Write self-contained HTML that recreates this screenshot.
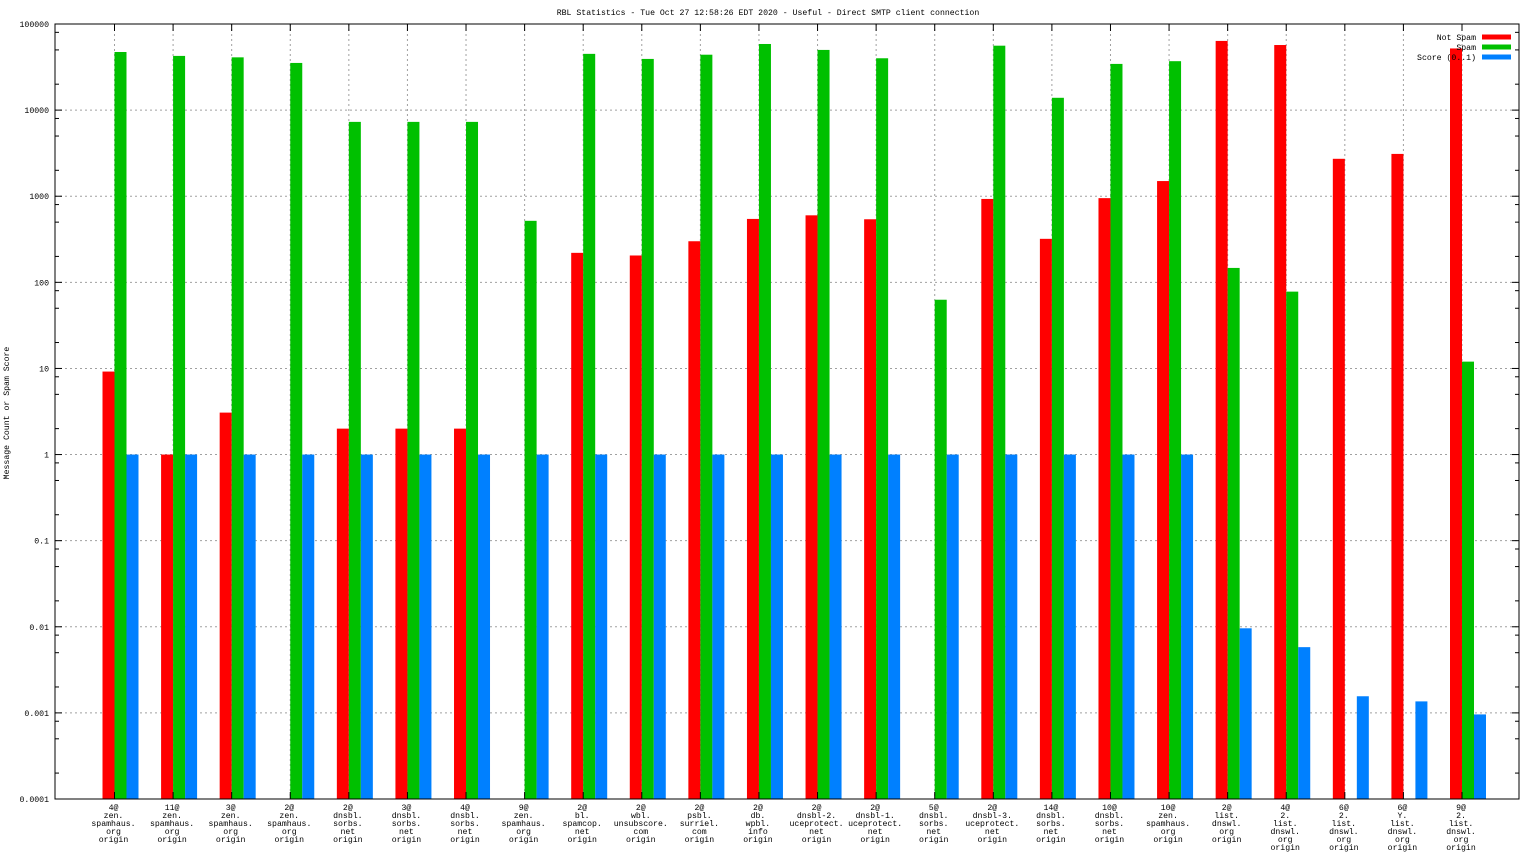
<!DOCTYPE html>
<html><head><meta charset="utf-8"><style>
html,body{margin:0;padding:0;background:#fff;}
svg{display:block;font-family:"Liberation Mono",monospace;}
</style></head><body>
<svg id="chart" width="1536" height="864" xmlns="http://www.w3.org/2000/svg"></svg>
<script>
const categories = [
 ["4@","zen.","spamhaus.","org","origin"],
 ["11@","zen.","spamhaus.","org","origin"],
 ["3@","zen.","spamhaus.","org","origin"],
 ["2@","zen.","spamhaus.","org","origin"],
 ["2@","dnsbl.","sorbs.","net","origin"],
 ["3@","dnsbl.","sorbs.","net","origin"],
 ["4@","dnsbl.","sorbs.","net","origin"],
 ["9@","zen.","spamhaus.","org","origin"],
 ["2@","bl.","spamcop.","net","origin"],
 ["2@","wbl.","unsubscore.","com","origin"],
 ["2@","psbl.","surriel.","com","origin"],
 ["2@","db.","wpbl.","info","origin"],
 ["2@","dnsbl-2.","uceprotect.","net","origin"],
 ["2@","dnsbl-1.","uceprotect.","net","origin"],
 ["5@","dnsbl.","sorbs.","net","origin"],
 ["2@","dnsbl-3.","uceprotect.","net","origin"],
 ["14@","dnsbl.","sorbs.","net","origin"],
 ["10@","dnsbl.","sorbs.","net","origin"],
 ["10@","zen.","spamhaus.","org","origin"],
 ["2@","list.","dnswl.","org","origin"],
 ["4@","2.","list.","dnswl.","org","origin"],
 ["6@","2.","list.","dnswl.","org","origin"],
 ["6@","Y.","list.","dnswl.","org","origin"],
 ["9@","2.","list.","dnswl.","org","origin"]
];
const notSpam = [9.2,1,3.07,0,2,2,2,0,220,205,300,545,600,540,0,930,320,950,1500,63600,57000,2720,3100,52000];
const spam = [47300,42600,41000,35300,7300,7300,7300,518,45000,39300,44000,58600,50000,40000,62.8,56000,13900,34400,37000,147,78,0,0,12];
const score = [1,1,1,1,1,1,1,1,1,1,1,1,1,1,1,1,1,1,1,0.0096,0.0058,0.00156,0.00136,0.00096];
const yTickLabels = ["0.0001","0.001","0.01","0.1","1","10","100","1000","10000","100000"];

const NS="http://www.w3.org/2000/svg";
const svg=document.getElementById('chart');
const L=55,R=1519,T=24,B=799;
const yMin=-4,yMax=5;
function y(v){return B-(Math.log10(v)-yMin)/(yMax-yMin)*(B-T);}
function x(i){return 114.5+i*(1462-114.5)/(categories.length-1);}
function mk(tag,attrs,parent){const e=document.createElementNS(NS,tag);for(const k in attrs)e.setAttribute(k,attrs[k]);(parent||svg).appendChild(e);return e;}

const title=mk('text',{x:768,y:15,'font-size':'8.2','text-anchor':'middle'});


title.textContent='RBL Statistics - Tue Oct 27 12:58:26 EDT 2020 - Useful - Direct SMTP client connection';

const yt=mk('text',{x:0,y:0,'font-size':'8.2','text-anchor':'middle',transform:'translate(9,413) rotate(-90)'});


yt.textContent='Message Count or Spam Score';

yTickLabels.forEach(function(lbl){
  const v=parseFloat(lbl), yy=y(v);
  if(yy>T+1&&yy<B-1){
    const g=mk('line',{x1:L,x2:R,y1:yy,y2:yy,stroke:'#a0a0a0','stroke-dasharray':'2,3','stroke-width':1});
    
    
  }
  mk('line',{x1:L,x2:L+7,y1:yy,y2:yy,stroke:'#000'});
  mk('line',{x1:R,x2:R-7,y1:yy,y2:yy,stroke:'#000'});
  const t=mk('text',{x:49,y:yy+3,'font-size':'8.2','text-anchor':'end'});
  
  
  t.textContent=lbl;
  if(v<100000){[2,5,8].forEach(function(m){const my=y(v*m);mk('line',{x1:L,x2:L+4,y1:my,y2:my,stroke:'#000'});mk('line',{x1:R,x2:R-4,y1:my,y2:my,stroke:'#000'});});}
});
categories.forEach(function(c,i){
  const xx=x(i);
  const g=mk('line',{x1:xx,x2:xx,y1:T,y2:B,stroke:'#a0a0a0','stroke-dasharray':'2,3'});
  
  
});
const bw=12;
const series=[[notSpam,'#ff0000',-12,'not-spam'],[spam,'#00c000',0,'spam'],[score,'#0080ff',12,'score']];
categories.forEach(function(c,i){
  series.forEach(function(s){
    const v=s[0][i]; if(!(v>0))return;
    const top=Math.max(y(v),T);
    const r=mk('rect',{x:x(i)+s[2],y:top,width:bw,height:B-top,fill:s[1]});
    
    
  });
  mk('line',{x1:x(i),x2:x(i),y1:T,y2:T+7,stroke:'#000'});
  mk('line',{x1:x(i),x2:x(i),y1:B,y2:B-7,stroke:'#000'});
  const t=mk('text',{'font-size':'8.2','text-anchor':'middle'});
  
  
  c.forEach(function(line,k){const ts=mk('tspan',{x:x(i)-1,y:810+k*8},t);ts.textContent=line;});
});
const f=mk('rect',{x:L,y:T,width:R-L,height:B-T,fill:'none',stroke:'#000','stroke-width':1});


const leg=[['Not Spam','#ff0000'],['Spam','#00c000'],['Score (0..1)','#0080ff']];
leg.forEach(function(l,k){
  const yy=37+k*10;
  const t=mk('text',{x:1476,y:yy+3,'font-size':'8.2','text-anchor':'end'});
  
  
  t.textContent=l[0];
  const r=mk('rect',{x:1482,y:yy-2.5,width:29,height:5,fill:l[1]});
  
  
});
</script>
</body></html>
